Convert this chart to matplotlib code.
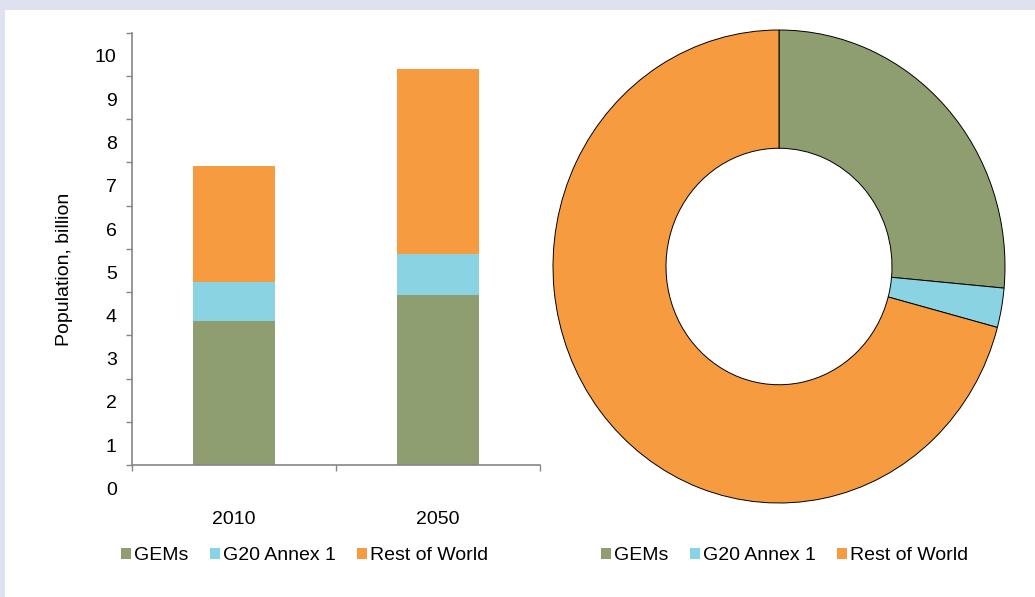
import matplotlib.pyplot as plt
import numpy as np
from matplotlib.patches import Patch, Rectangle
from matplotlib.transforms import ScaledTranslation

plt.rcParams['font.family'] = ['Liberation Sans', 'DejaVu Sans']

# Data (population, billion)
years = ['2010', '2050']
groups = ['GEMs', 'G20 Annex 1', 'Rest of World']
gems = [3.33, 3.92]
annex1 = [0.91, 0.97]
rest_of_world = [2.68, 4.26]
colors = ['#8f9e70', '#8ad3e3', '#f79b41']

# Donut shows the growth between 2010 and 2050
growth = [gems[1] - gems[0], annex1[1] - annex1[0], rest_of_world[1] - rest_of_world[0]]

fig = plt.figure(figsize=(10.35, 5.97), dpi=100)
fig.patch.set_facecolor('#dfe0f0')
fig.add_artist(Rectangle((5 / 1035, 0), 1, 1 - 10 / 597, transform=fig.transFigure,
                         facecolor='white', edgecolor='none', zorder=0))

# Stacked bar chart
ax1 = fig.add_axes([132 / 1035, 132 / 597, 408 / 1035, 432.5 / 597])
ax1.set_facecolor('none')
x = np.arange(len(years))
w = 0.4
ax1.bar(x, gems, w, color=colors[0])
ax1.bar(x, annex1, w, bottom=gems, color=colors[1])
bottom2 = np.array(gems) + np.array(annex1)
ax1.bar(x, rest_of_world, w, bottom=bottom2, color=colors[2])

ax1.set_xlim(-0.5, 1.5)
ax1.set_ylim(0, 10)
ax1.set_yticks(range(0, 11))
ax1.set_xticks([-0.5, 0.5, 1.5])
ax1.set_xticklabels(['', '', ''])
ax1.set_xticks(x, minor=True)
ax1.set_xticklabels(years, minor=True)
ax1.tick_params(axis='x', which='minor', length=0, pad=33, labelsize=14)
ax1.tick_params(axis='x', which='major', length=4, width=1, color='#868686')
ax1.tick_params(axis='y', length=4.5, width=1, color='#868686', pad=6.5, labelsize=14)
for sp in ['top', 'right']:
    ax1.spines[sp].set_visible(False)
for sp in ['left', 'bottom']:
    ax1.spines[sp].set_color('#868686')
    ax1.spines[sp].set_linewidth(1.2)

# y tick labels sit below their ticks
offset = ScaledTranslation(0, -23.5 / 100, fig.dpi_scale_trans)
for lab in ax1.get_yticklabels():
    lab.set_transform(lab.get_transform() + offset)

ax1.set_ylabel('Population, billion', fontsize=14)
ax1.yaxis.set_label_coords(-0.145, 0.453)

# Donut chart
ax2 = fig.add_axes([553 / 1035, 94 / 597, 452 / 1035, 473 / 597])
wedges, _ = ax2.pie(growth, colors=colors, startangle=90, counterclock=False,
                    radius=1, wedgeprops=dict(width=0.5, edgecolor='black', linewidth=0.7))
for wdg in wedges:
    wdg.set_clip_on(False)
ax2.set_aspect('auto')
ax2.set_xlim(-1, 1)
ax2.set_ylim(-1, 1)
ax2.axis('off')

# Legends
handles = [Patch(facecolor=c, edgecolor='none') for c in colors]
leg_kw = dict(loc='center left', ncol=3, frameon=False, fontsize=14,
              handlelength=0.5, handleheight=0.5, handletextpad=0.15,
              columnspacing=1.13, borderpad=0, borderaxespad=0)
fig.legend(handles, groups, bbox_to_anchor=(121 / 1035, 1 - 556 / 597), **leg_kw)
fig.legend(handles, groups, bbox_to_anchor=(601 / 1035, 1 - 556 / 597), **leg_kw)

fig.savefig('out.png', dpi=100, facecolor=fig.get_facecolor())
